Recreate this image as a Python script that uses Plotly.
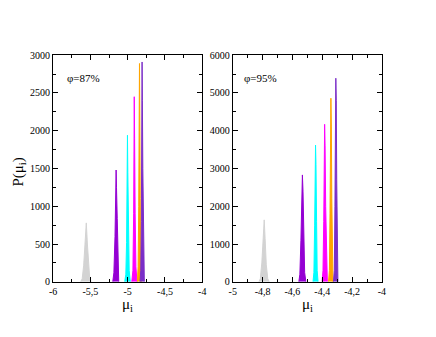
import plotly.graph_objects as go

# left panel, phi = 87%
left_labels = ["grey", "violet", "cyan", "magenta", "orange", "purple"]
left_x = [
    [-5.63, -5.61, -5.59, -5.57, -5.555, -5.54, -5.525, -5.51, -5.49],
    [-5.2, -5.185, -5.17, -5.16, -5.155, -5.15, -5.14, -5.13, -5.12],
    [-5.04, -5.025, -5.015, -5.006, -5.003, -4.998, -4.99, -4.98, -4.965],
    [-4.945, -4.93, -4.92, -4.915, -4.912, -4.907, -4.9, -4.89, -4.875],
    [-4.87, -4.86, -4.852, -4.846, -4.842, -4.838, -4.832, -4.824, -4.812],
    [-4.835, -4.825, -4.817, -4.811, -4.807, -4.803, -4.797, -4.789, -4.777],
]
left_y = [
    [0, 40, 220, 520, 780, 500, 230, 60, 0],
    [0, 120, 600, 1150, 1480, 1250, 840, 200, 0],
    [0, 100, 520, 1300, 1940, 1450, 700, 150, 0],
    [0, 150, 900, 1800, 2450, 1900, 900, 200, 0],
    [0, 200, 1000, 2200, 2890, 2300, 1100, 200, 0],
    [0, 150, 800, 2400, 2910, 2400, 1500, 300, 0],
]

# right panel, phi = 95%
right_x = [
    [-4.825, -4.815, -4.805, -4.795, -4.789, -4.783, -4.775, -4.765, -4.755],
    [-4.557, -4.55, -4.543, -4.537, -4.533, -4.529, -4.524, -4.518, -4.51],
    [-4.462, -4.456, -4.451, -4.447, -4.445, -4.442, -4.438, -4.434, -4.428],
    [-4.401, -4.395, -4.39, -4.386, -4.384, -4.381, -4.377, -4.372, -4.366],
    [-4.358, -4.352, -4.348, -4.344, -4.342, -4.339, -4.336, -4.333, -4.328],
    [-4.325, -4.319, -4.315, -4.311, -4.309, -4.306, -4.303, -4.3, -4.295],
]
right_y = [
    [0, 80, 500, 1200, 1640, 1150, 450, 80, 0],
    [0, 200, 1100, 2300, 2830, 2400, 1300, 250, 0],
    [0, 250, 1500, 3000, 3620, 3100, 1600, 300, 0],
    [0, 300, 1600, 3500, 4170, 3600, 2000, 400, 0],
    [0, 300, 1800, 4000, 4860, 4100, 2200, 400, 0],
    [0, 300, 2000, 4600, 5390, 4800, 2700, 500, 0],
]

colors = ["#d3d3d3", "#9400d3", "#00ffff", "#ff00ff", "#ffa500", "#7a2ec8"]

left_tickvals = [-6, -5.5, -5, -4.5, -4]
left_ticktext = ["-6", "-5,5", "-5", "-4,5", "-4"]
right_tickvals = [-5, -4.8, -4.6, -4.4, -4.2, -4]
right_ticktext = ["-5", "-4,8", "-4,6", "-4,4", "-4,2", "-4"]

fig = go.Figure()
for i in range(len(left_labels)):
    fig.add_trace(go.Scatter(x=left_x[i], y=left_y[i], mode="lines", fill="tozeroy",
                             line=dict(color=colors[i], width=1), fillcolor=colors[i],
                             opacity=0.85, xaxis="x", yaxis="y", showlegend=False))
    fig.add_trace(go.Scatter(x=right_x[i], y=right_y[i], mode="lines", fill="tozeroy",
                             line=dict(color=colors[i], width=1), fillcolor=colors[i],
                             opacity=0.85, xaxis="x2", yaxis="y2", showlegend=False))

serif = "Liberation Serif"
font = dict(family=serif, size=10, color="black")
axis_common = dict(showline=True, linecolor="black", linewidth=1, mirror="allticks",
                   ticks="inside", ticklen=5, tickcolor="black", showgrid=False,
                   zeroline=False, tickfont=font)

fig.update_layout(
    width=436, height=337,
    margin=dict(l=0, r=0, t=0, b=0),
    plot_bgcolor="white", paper_bgcolor="white",
    font=dict(family=serif),
    xaxis=dict(axis_common, domain=[50/436, 202/436], range=[-6, -4], tickmode="array",
               tickvals=left_tickvals, ticktext=left_ticktext, anchor="y",
               minor=dict(tickmode="linear", tick0=-6, dtick=0.25, ticks="inside",
                          ticklen=3, tickcolor="black")),
    yaxis=dict(axis_common, domain=[1 - 286/337, 1 - 51/337], range=[0, 3000], dtick=500,
               anchor="x", minor=dict(dtick=250, ticks="inside", ticklen=3, tickcolor="black")),
    xaxis2=dict(axis_common, domain=[233/436, 385/436], range=[-5, -4], tickmode="array",
                tickvals=right_tickvals, ticktext=right_ticktext, anchor="y2",
                minor=dict(tickmode="linear", tick0=-5, dtick=0.1, ticks="inside",
                           ticklen=3, tickcolor="black")),
    yaxis2=dict(axis_common, domain=[1 - 286/337, 1 - 51/337], range=[0, 6000], dtick=1000,
                anchor="x2", minor=dict(dtick=500, ticks="inside", ticklen=3, tickcolor="black")),
    annotations=[
        dict(text="\u03c6=87%", x=62/436, y=1 - 75/337, xref="paper", yref="paper",
             xanchor="left", yanchor="middle", showarrow=False,
             font=dict(family=serif, size=11, color="black")),
        dict(text="\u03c6=95%", x=242/436, y=1 - 75/337, xref="paper", yref="paper",
             xanchor="left", yanchor="middle", showarrow=False,
             font=dict(family=serif, size=11, color="black")),
        dict(text="\u03bc<sub>i</sub>", x=126/436, y=1 - 299/337, xref="paper", yref="paper",
             xanchor="center", yanchor="top", showarrow=False,
             font=dict(family=serif, size=15, color="black")),
        dict(text="\u03bc<sub>i</sub>", x=309/436, y=1 - 299/337, xref="paper", yref="paper",
             xanchor="center", yanchor="top", showarrow=False,
             font=dict(family=serif, size=15, color="black")),
        dict(text="P(\u03bc<sub>i</sub>)", x=15/436, y=1 - 172/337, xref="paper", yref="paper",
             xanchor="center", yanchor="middle", textangle=-90, showarrow=False,
             font=dict(family=serif, size=15, color="black")),
    ],
)

fig.write_html("out.html", config={"displayModeBar": False},
               post_script="document.body.style.margin='0px';")
